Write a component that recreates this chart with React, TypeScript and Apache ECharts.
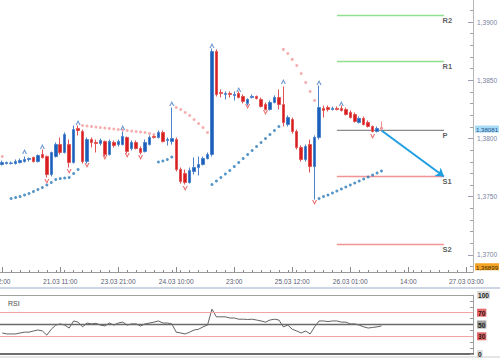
import { useEffect, useRef } from 'react';
import * as echarts from 'echarts';

const SLOT_COUNT = 106;
const TICK_STEP = 13;
const tickLabels = ['22:00', '21.03 11:00', '23.03 21:00', '24.03 10:00', '23:00', '25.03 12:00', '26.03 01:00', '14:00', '27.03 03:00'];

const Y_MIN = 1.36854;
const Y_MAX = 1.39189;
const CURRENT_PRICE = 1.38081;
const LOW_PRICE = 1.36899;
const majorPrices = [1.37, 1.375, 1.38, 1.385, 1.39];

const opens = [
  1.37777, 1.37785, 1.37785, 1.37785, 1.37794, 1.37802, 1.37820, 1.37837, 1.37802, 1.37863,
  1.37845, 1.37691, 1.37845, 1.37948, 1.37880, 1.37948, 1.37794, 1.38086, 1.38060, 1.37802,
  1.37991, 1.37966, 1.37957, 1.37974, 1.37863, 1.37966, 1.37948, 1.37948, 1.38009, 1.37914,
  1.37966, 1.37914, 1.37888, 1.37948, 1.38017, 1.38009, 1.38052, 1.37983, 1.37974, 1.37991,
  1.37734, 1.37699, 1.37622, 1.37717, 1.37751, 1.37777, 1.37828, 1.37863, 1.38747, 1.38395,
  1.38378, 1.38387, 1.38369, 1.38387, 1.38361, 1.38301, 1.38352, 1.38361, 1.38335, 1.38292,
  1.38249, 1.38309, 1.38352, 1.38292, 1.38120, 1.38163, 1.38060, 1.37923, 1.37820, 1.37948,
  1.37759, 1.38009, 1.38258, 1.38266, 1.38249, 1.38258, 1.38258, 1.38249, 1.38223, 1.38206,
  1.38137, 1.38172, 1.38137, 1.38103, 1.38060, 1.38094,
];
const closes = [
  1.37794, 1.37794, 1.37790, 1.37802, 1.37811, 1.37820, 1.37828, 1.37802, 1.37854, 1.37837,
  1.37691, 1.37880, 1.37948, 1.37880, 1.38034, 1.37794, 1.38077, 1.38069, 1.37802, 1.37991,
  1.37966, 1.37957, 1.37983, 1.37863, 1.37974, 1.37940, 1.37974, 1.38017, 1.37888, 1.37966,
  1.37914, 1.37880, 1.37966, 1.38009, 1.38009, 1.38052, 1.37974, 1.37991, 1.38000, 1.37734,
  1.37631, 1.37622, 1.37725, 1.37751, 1.37777, 1.37828, 1.37863, 1.38747, 1.38378, 1.38387,
  1.38387, 1.38378, 1.38378, 1.38352, 1.38318, 1.38335, 1.38361, 1.38344, 1.38275, 1.38249,
  1.38309, 1.38352, 1.38292, 1.38137, 1.38180, 1.38060, 1.37923, 1.37820, 1.37931, 1.37759,
  1.38009, 1.38266, 1.38241, 1.38249, 1.38258, 1.38249, 1.38241, 1.38206, 1.38180, 1.38146,
  1.38172, 1.38120, 1.38103, 1.38060, 1.38086, 1.38081,
];
const lows = [
  1.37768, 1.37777, 1.37777, 1.37777, 1.37785, 1.37794, 1.37802, 1.37794, 1.37794, 1.37828,
  1.37665, 1.37674, 1.37837, 1.37863, 1.37871, 1.37751, 1.37785, 1.38026, 1.37785, 1.37785,
  1.37923, 1.37880, 1.37940, 1.37845, 1.37854, 1.37923, 1.37931, 1.37940, 1.37871, 1.37897,
  1.37906, 1.37863, 1.37880, 1.37940, 1.38000, 1.38000, 1.37966, 1.37940, 1.37948, 1.37717,
  1.37613, 1.37605, 1.37613, 1.37691, 1.37682, 1.37768, 1.37820, 1.37845, 1.38361, 1.38352,
  1.38335, 1.38352, 1.38326, 1.38344, 1.38301, 1.38283, 1.38344, 1.38335, 1.38266, 1.38241,
  1.38241, 1.38301, 1.38249, 1.38103, 1.38103, 1.38043, 1.37906, 1.37802, 1.37802, 1.37708,
  1.37476, 1.37991, 1.38180, 1.38232, 1.38241, 1.38241, 1.38232, 1.38198, 1.38172, 1.38137,
  1.38129, 1.38112, 1.38094, 1.38052, 1.38052, 1.38060,
];
const highs = [
  1.37811, 1.37802, 1.37802, 1.37820, 1.37828, 1.37845, 1.37837, 1.37845, 1.37863, 1.37906,
  1.37854, 1.37888, 1.37966, 1.38009, 1.38052, 1.37991, 1.38112, 1.38112, 1.38077, 1.38009,
  1.38009, 1.37991, 1.38000, 1.37983, 1.37991, 1.37983, 1.37991, 1.38060, 1.38017, 1.37983,
  1.37983, 1.37931, 1.37991, 1.38026, 1.38034, 1.38069, 1.38069, 1.38009, 1.38266, 1.38009,
  1.37751, 1.37734, 1.37751, 1.37837, 1.37845, 1.37845, 1.37880, 1.38773, 1.38765, 1.38421,
  1.38404, 1.38404, 1.38404, 1.38404, 1.38378, 1.38344, 1.38378, 1.38369, 1.38352, 1.38309,
  1.38326, 1.38369, 1.38421, 1.38447, 1.38198, 1.38180, 1.38077, 1.37940, 1.37948, 1.37991,
  1.38026, 1.38455, 1.38283, 1.38283, 1.38275, 1.38275, 1.38283, 1.38266, 1.38241, 1.38223,
  1.38189, 1.38189, 1.38155, 1.38112, 1.38103, 1.38146,
];

const sarBlue = [
  null, null, 1.37485, 1.37493, 1.37502, 1.37515, 1.37528, 1.37545, 1.37562, 1.37579,
  1.37601, 1.37622, 1.37648, 1.37656, 1.37661, 1.37665, 1.37699, 1.37734, null, null,
  null, null, null, null, null, null, null, null, null, null,
  null, null, null, null, null, 1.37798, 1.37807, 1.37820, 1.37841, null,
  null, null, null, null, null, null, null, 1.37605, 1.37635, 1.37665,
  1.37695, 1.37725, 1.37759, 1.37794, 1.37828, 1.37863, 1.37897, 1.37931, 1.37966, 1.38000,
  1.38034, 1.38069, 1.38103, null, null, null, null, null, null, null,
  null, 1.37485, 1.37502, 1.37515, 1.37532, 1.37550, 1.37567, 1.37584, 1.37601, 1.37618,
  1.37635, 1.37652, 1.37669, 1.37686, 1.37704, 1.37721,
];
const sarRed = [
  1.37845, null, null, null, null, null, null, null, null, null,
  null, null, null, null, null, null, null, null, 1.38112, 1.38107,
  1.38103, 1.38099, 1.38094, 1.38090, 1.38086, 1.38082, 1.38077, 1.38073, 1.38069, 1.38064,
  1.38060, 1.38056, 1.38052, 1.38043, 1.38034, null, null, null, null, 1.38266,
  1.38249, 1.38223, 1.38198, 1.38163, 1.38129, 1.38094, 1.38052, null, null, null,
  null, null, null, null, null, null, null, null, null, null,
  null, null, null, 1.38765, 1.38730, 1.38679, 1.38627, 1.38558, 1.38481, 1.38404,
  1.38326, null, null, null, null, null, null, null, null, null,
  null, null, null, null, null, null,
];

const fractalUpSlots = [5, 9, 17, 27, 38, 47, 53, 63, 71, 76];
const fractalUpPrices = [1.37888, 1.37931, 1.38137, 1.38094, 1.38301, 1.38799, 1.38421, 1.38490, 1.38481, 1.38301];
const fractalDownSlots = [10, 15, 19, 23, 28, 31, 41, 55, 59, 70, 83];
const fractalDownPrices = [1.37631, 1.37717, 1.37768, 1.37837, 1.37854, 1.37837, 1.37571, 1.38275, 1.38223, 1.37450, 1.38017];

const pivotNames = ['R2', 'R1', 'P', 'S1', 'S2'];
const pivotValues = [1.39055, 1.38661, 1.38069, 1.37674, 1.37091];
const pivotColors = ['#8fe08f', '#8fe08f', '#8a8a8a', '#f29494', '#f29494'];
const PIVOT_START = 75;
const PIVOT_END = 99;
const ARROW_START = 85;

const rsi = [
  35.6, 34, 34, 34, 35.6, 37, 37, 39, 40.7, 39,
  32, 42, 49, 51, 49, 44, 56, 54, 46, 52.5,
  51, 52, 49, 47.5, 52.5, 49, 52.5, 54, 49, 51,
  51, 47.5, 51, 52.5, 54, 56, 52.5, 52.5, 51, 37,
  35.6, 34, 37, 40.7, 42, 46, 49, 76, 63, 63,
  63, 61, 61, 59, 59, 58.5, 59, 57.6, 56, 54,
  57.6, 59, 57.6, 46, 49, 42, 39, 35.6, 39, 34,
  46, 56, 56, 55, 56, 56, 54, 54, 51, 51,
  49, 46, 44, 45, 46, 47.5,
];
const rsiLevels = [70, 50, 30];
const rsiLabelValues = [0, 30, 50, 70, 100];

const FONT = '"Liberation Sans", Arial, sans-serif';
const UP_SYMBOL = 'path://M0,10 L5,0 L10,10 L7.6,10 L5,4.5 L2.4,10 Z';
const DOWN_SYMBOL = 'path://M0,0 L5,10 L10,0 L7.6,0 L5,5.5 L2.4,0 Z';

export default function App() {
  const ref = useRef<HTMLDivElement>(null);

  useEffect(() => {
    document.body.style.margin = '0';
    const chart = echarts.init(ref.current as HTMLDivElement, null, { renderer: 'svg' });
    const cats = Array.from({ length: SLOT_COUNT }, (_, i) => String(i));
    const isMajor = (i: number) => i % TICK_STEP === 0;
    const minorPrices: number[] = [];
    for (let k = 1369; k <= 1391; k++) minorPrices.push(k / 1000);
    const labelPrices = [LOW_PRICE, ...majorPrices.slice(0, 3), CURRENT_PRICE, ...majorPrices.slice(3)];

    const candleData = opens.map((o, i) => {
      const v = [o, closes[i], lows[i], highs[i]];
      if (i === opens.length - 1) {
        return {
          value: v,
          itemStyle: { color: '#f8c0c0', color0: '#f8c0c0', borderColor: '#ef8f8f', borderColor0: '#ef8f8f' },
        };
      }
      return v;
    });

    const pivotLineSeries = pivotNames.map((name, i) => ({
      type: 'line',
      name,
      xAxisIndex: 0,
      yAxisIndex: 0,
      data: [[PIVOT_START, pivotValues[i]], [PIVOT_END, pivotValues[i]]],
      showSymbol: false,
      symbol: 'none',
      silent: true,
      lineStyle: { color: pivotColors[i], width: name === 'P' ? 1.2 : 1.5 },
      z: 1,
      markLine:
        name === 'P'
          ? {
              silent: true,
              symbol: ['none', 'arrow'],
              symbolSize: 8,
              label: { show: false },
              lineStyle: { color: '#1e9fe3', width: 2, type: 'solid' },
              data: [[{ coord: [ARROW_START, pivotValues[2]] }, { coord: [PIVOT_END, pivotValues[3]] }]],
            }
          : undefined,
    }));

    const option: any = {
      animation: false,
      backgroundColor: '#ffffff',
      grid: [
        { left: 0, right: 27, top: 0, height: 272, containLabel: false, outerBoundsMode: 'none' },
        { left: 0, right: 27, top: 295, height: 59, containLabel: false, outerBoundsMode: 'none' },
      ],
      xAxis: [
        {
          type: 'category', gridIndex: 0, data: cats, position: 'bottom', offset: 0,
          axisLine: { show: true, lineStyle: { color: '#9a9a9a', width: 1 } },
          axisTick: { show: true, inside: true, length: 2, interval: 1, alignWithLabel: true, lineStyle: { color: '#8a8a8a' } },
          axisLabel: { show: false },
          splitLine: { show: false },
        },
        {
          type: 'category', gridIndex: 0, data: cats, position: 'bottom', offset: 0,
          axisLine: { show: false },
          axisTick: { show: true, inside: true, length: 5, alignWithLabel: true, interval: (i: number) => isMajor(i), lineStyle: { color: '#8a8a8a' } },
          axisLabel: {
            show: true,
            interval: (i: number) => isMajor(i),
            alignMinLabel: 'center',
            alignMaxLabel: 'center',
            formatter: (v: string) => tickLabels[Number(v) / TICK_STEP] || '',
            color: '#5a6070', fontSize: 6.6, fontFamily: FONT, margin: 6,
          },
          splitLine: { show: false },
        },
        {
          type: 'category', gridIndex: 1, data: cats, position: 'bottom', offset: 0,
          axisLine: { show: true, lineStyle: { color: '#6e6e6e', width: 2 } },
          axisTick: { show: false }, axisLabel: { show: false }, splitLine: { show: false },
        },
        {
          type: 'category', gridIndex: 1, data: cats, position: 'top', offset: 0,
          axisLine: { show: true, lineStyle: { color: '#a0a0a0', width: 1 } },
          axisTick: { show: false }, axisLabel: { show: false }, splitLine: { show: false },
        },
      ],
      yAxis: [
        {
          type: 'value', gridIndex: 0, position: 'right', min: Y_MIN, max: Y_MAX, offset: 0,
          axisLine: { show: true, lineStyle: { color: '#b5b5b5' } },
          axisTick: { show: true, inside: true, length: 5, customValues: majorPrices, lineStyle: { color: '#9aa0b0' } },
          axisLabel: {
            show: true,
            customValues: labelPrices,
            color: '#7a84a3', fontSize: 6.6, fontFamily: FONT, margin: 2,
            formatter: (v: number) => {
              if (Math.abs(v - CURRENT_PRICE) < 1e-7) return `{cur|${v.toFixed(5).replace('.', ',')}}`;
              if (Math.abs(v - LOW_PRICE) < 1e-7) return `{low|${v.toFixed(5).replace('.', ',')}}`;
              return `{n|${v.toFixed(4).replace('.', ',')}}`;
            },
            rich: {
              n: { color: '#7a84a3', padding: [0, 0, 0, 2], fontSize: 6.6, fontFamily: FONT },
              cur: { backgroundColor: '#a6dcf7', color: '#1d4c8c', padding: [1, 1, 0, 1], fontSize: 6.1, fontFamily: FONT },
              low: { backgroundColor: '#f4a324', color: '#3a2a00', padding: [1, 1, 0, 1], fontSize: 6.1, fontFamily: FONT },
            },
          },
          splitLine: { show: false },
        },
        {
          type: 'value', gridIndex: 0, position: 'right', min: Y_MIN, max: Y_MAX, offset: 0,
          axisLine: { show: false },
          axisTick: { show: true, inside: true, length: 3, customValues: minorPrices, lineStyle: { color: '#9aa0b0' } },
          axisLabel: { show: false },
          splitLine: { show: false },
        },
        {
          type: 'value', gridIndex: 1, position: 'right', min: 0, max: 100, offset: 0,
          axisLine: { show: true, lineStyle: { color: '#a0a0a0' } },
          axisTick: { show: true, inside: true, length: 3, customValues: [0, 10, 20, 30, 40, 50, 60, 70, 80, 90, 100], lineStyle: { color: '#999' } },
          axisLabel: {
            show: true,
            customValues: rsiLabelValues,
            fontSize: 6.6, fontFamily: FONT, margin: 4, color: '#222',
            formatter: (v: number) => {
              if (v === 70 || v === 30) return `{red|${v}}`;
              if (v === 50) return `{gray|${v}}`;
              return `{plain|${v}}`;
            },
            rich: {
              red: { backgroundColor: '#e46a6a', color: '#2a1010', padding: [1, 1, 0, 1], fontSize: 6.6, fontFamily: FONT, fontWeight: 'bold' },
              gray: { backgroundColor: '#a0a0a0', color: '#222', padding: [1, 1, 0, 1], fontSize: 6.6, fontFamily: FONT, fontWeight: 'bold' },
              plain: { backgroundColor: '#dcdcdc', color: '#222', padding: [1, 1, 0, 1], fontSize: 6.6, fontFamily: FONT, fontWeight: 'bold' },
            },
          },
          splitLine: { show: false },
        },
      ],
      series: [
        ...pivotLineSeries,
        {
          type: 'candlestick',
          xAxisIndex: 0,
          yAxisIndex: 0,
          barWidth: 3,
          silent: true,
          z: 3,
          itemStyle: { color: '#1b5fba', color0: '#d81f1f', borderColor: '#4b82cc', borderColor0: '#e25252', borderWidth: 1 },
          data: candleData,
        },
        {
          type: 'scatter', xAxisIndex: 0, yAxisIndex: 0, silent: true, z: 4,
          symbol: 'circle', symbolSize: 3,
          itemStyle: { color: '#2b7ab9' },
          data: sarBlue.map((v) => (v === null ? '-' : v)),
        },
        {
          type: 'scatter', xAxisIndex: 0, yAxisIndex: 0, silent: true, z: 4,
          symbol: 'circle', symbolSize: 3,
          itemStyle: { color: '#f59a9a' },
          data: sarRed.map((v) => (v === null ? '-' : v)),
        },
        {
          type: 'scatter', xAxisIndex: 0, yAxisIndex: 0, silent: true, z: 5,
          symbol: UP_SYMBOL, symbolSize: [5, 5],
          itemStyle: { color: '#4479c4' },
          data: fractalUpSlots.map((s, i) => [s, fractalUpPrices[i]]),
        },
        {
          type: 'scatter', xAxisIndex: 0, yAxisIndex: 0, silent: true, z: 5,
          symbol: DOWN_SYMBOL, symbolSize: [5, 5],
          itemStyle: { color: '#e34a4a' },
          data: fractalDownSlots.map((s, i) => [s, fractalDownPrices[i]]),
        },
        {
          type: 'scatter', xAxisIndex: 0, yAxisIndex: 0, silent: true, z: 6,
          symbolSize: 1,
          itemStyle: { color: 'rgba(0,0,0,0)' },
          label: {
            show: true, position: 'right', distance: 0, offset: [-2, 5],
            formatter: '{b}', color: '#333', fontWeight: 'bold', fontSize: 7.5, fontFamily: FONT,
          },
          data: pivotNames.map((n, i) => ({ name: n, value: [PIVOT_END, pivotValues[i]] })),
        },
        {
          type: 'line', xAxisIndex: 2, yAxisIndex: 2, silent: true,
          showSymbol: false, symbol: 'none',
          lineStyle: { color: '#3a3a3a', width: 0.8 },
          data: rsi,
          z: 3,
          markLine: {
            silent: true,
            symbol: 'none',
            label: { show: false },
            data: rsiLevels.map((lv) => ({
              yAxis: lv,
              lineStyle: { color: lv === 50 ? '#6a6a6a' : '#f3a3a3', width: lv === 50 ? 1.3 : 1, type: 'solid' },
            })),
          },
        },
      ],
      graphic: [
        { type: 'rect', left: 0, top: 287, silent: true, shape: { width: 500, height: 2 }, style: { fill: '#cdd6e5' } },
        { type: 'rect', left: 0, top: 356, silent: true, shape: { width: 500, height: 2 }, style: { fill: '#e6e6e6' } },
        { type: 'text', left: 8, top: 300, silent: true, style: { text: 'RSI', fill: '#4a4a4a', fontSize: 7, fontFamily: FONT } },
      ],
    };

    chart.setOption(option);
    return () => chart.dispose();
  }, []);

  return <div ref={ref} style={{ position: 'fixed', left: 0, top: 0, width: 500, height: 358 }} />;
}
